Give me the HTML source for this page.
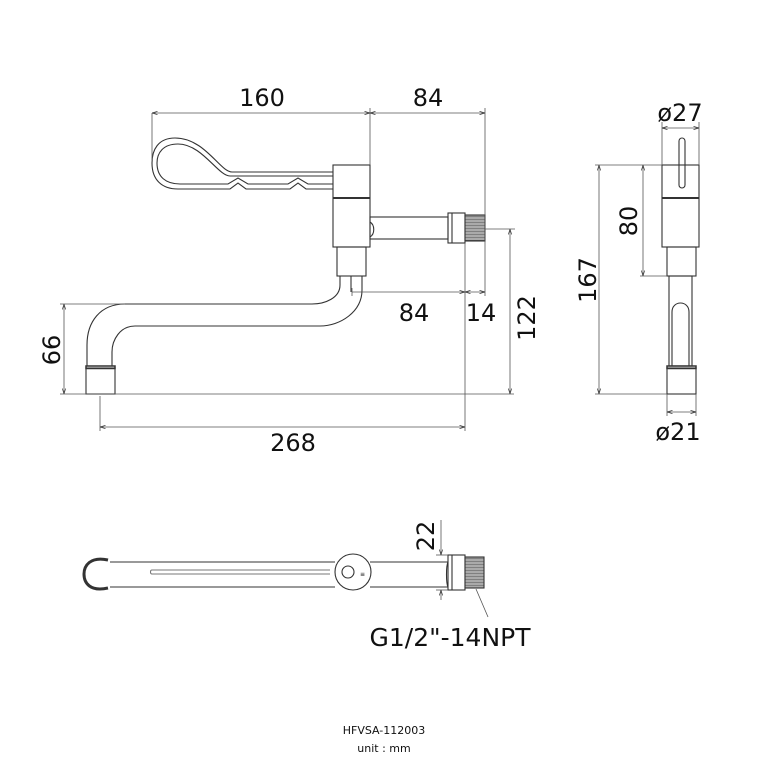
<!DOCTYPE html>
<html><head><meta charset="utf-8"><style>
html,body{margin:0;padding:0;background:#fff;width:768px;height:768px;overflow:hidden}
svg{display:block}
text{font-family:"DejaVu Sans","Liberation Sans",sans-serif;fill:#111}
</style></head><body>
<svg width="768" height="768" viewBox="0 0 768 768" xmlns="http://www.w3.org/2000/svg">
<defs>
<marker id="a" viewBox="0 0 10 10" refX="10" refY="5" markerWidth="7" markerHeight="7" orient="auto-start-reverse"><path d="M0,2 L10,5 L0,8" fill="none" stroke="#333" stroke-width="1.2"/></marker>
<pattern id="th" width="3" height="3" patternUnits="userSpaceOnUse"><rect width="3" height="3" fill="#aaa"/><line x1="0" y1="0" x2="3" y2="0" stroke="#555" stroke-width="1"/></pattern>
</defs>
<g fill="none" stroke="#333" stroke-width="1.1">
<path d="M333,172 L232,172 C220,172 205,138 175,138 C158,138 152,150 152,163 C152,180 162,189 178,189 L230,189 L238,183 L246,189 L290,189 L298,183 L306,189 L333,189"/>
<path d="M333,176 L230,176 C218,176 202,144 178,144 C163,144 157,153 157,163 C157,177 166,184 180,184 L228,184 L238,178 L248,184 L288,184 L298,178 L308,184 L333,184"/>
<rect x="333" y="165" width="37" height="82"/>
<line x1="333" y1="198" x2="370" y2="198" stroke-width="2"/>
<rect x="370" y="217" width="78" height="22"/>
<path d="M370,222 C375,225 375,234 370,237"/>
<rect x="448" y="213" width="17" height="30"/>
<line x1="452" y1="213" x2="452" y2="243"/>
<rect x="465" y="215" width="20" height="26" fill="url(#th)"/>
<rect x="337" y="247" width="29" height="29"/>
<path d="M340,276 L340,285 C340,298 325,304 312,304 L125,304 C100,304 87,322 87,345 L87,366"/>
<path d="M362,276 L362,290 C362,312 340,326 320,326 L135,326 C120,326 112,340 112,352 L112,366"/>
<line x1="351" y1="276" x2="351" y2="292"/>
<rect x="86" y="366" width="29" height="2.5" stroke-width="1.5"/>
<rect x="86" y="368" width="29" height="26"/>
<rect x="662" y="165" width="37" height="82"/>
<line x1="662" y1="198" x2="699" y2="198" stroke-width="2"/>
<rect x="679" y="138" width="6" height="50" rx="3"/>
<rect x="667" y="247" width="29" height="29"/>
<rect x="669" y="276" width="23" height="90"/>
<path d="M672,366 L672,312 C672,300 689,300 689,312 L689,366"/>
<rect x="667" y="366" width="29" height="2.5" stroke-width="1.5"/>
<rect x="667" y="368" width="29" height="26"/>
<path d="M110,562 L335,562 M370,562 L448,562 M110,587 L335,587 M370,587 L448,587"/>
<path d="M108,560 C90,556 84,566 84,574 C84,583 90,592 108,588" stroke-width="3"/>
<path d="M152,570 L330,570 M152,574 L330,574 M152,570 C150,570 150,574 152,574" stroke="#777"/>
<circle cx="353" cy="572" r="18"/>
<circle cx="348" cy="572" r="6"/>
<path d="M448,562 C446,566 446,583 448,587"/>
<rect x="448" y="555" width="17" height="35"/>
<line x1="452" y1="555" x2="452" y2="590"/>
<rect x="465" y="557" width="19" height="31" fill="url(#th)"/>
</g>
<text x="360" y="576" font-size="6">≡</text>
<g fill="none" stroke="#555" stroke-width="0.8">
<line x1="152" y1="113" x2="152" y2="160"/>
<line x1="370" y1="108" x2="370" y2="165"/>
<line x1="485" y1="108" x2="485" y2="296"/>
<line x1="152" y1="113" x2="370" y2="113" marker-start="url(#a)" marker-end="url(#a)"/>
<line x1="370" y1="113" x2="485" y2="113" marker-start="url(#a)" marker-end="url(#a)"/>
<line x1="352" y1="288" x2="352" y2="296"/>
<line x1="352" y1="292" x2="465" y2="292" marker-end="url(#a)"/>
<line x1="465" y1="292" x2="485" y2="292" marker-start="url(#a)" marker-end="url(#a)"/>
<line x1="465" y1="243" x2="465" y2="431"/>
<line x1="100" y1="396" x2="100" y2="431"/>
<line x1="100" y1="427" x2="465" y2="427" marker-start="url(#a)" marker-end="url(#a)"/>
<line x1="60" y1="304" x2="125" y2="304"/>
<line x1="60" y1="394" x2="514" y2="394"/>
<line x1="64" y1="304" x2="64" y2="394" marker-start="url(#a)" marker-end="url(#a)"/>
<line x1="485" y1="229" x2="515" y2="229"/>
<line x1="510" y1="229" x2="510" y2="394" marker-start="url(#a)" marker-end="url(#a)"/>
<line x1="662" y1="122" x2="662" y2="165"/>
<line x1="699" y1="122" x2="699" y2="165"/>
<line x1="662" y1="128" x2="699" y2="128" marker-start="url(#a)" marker-end="url(#a)"/>
<line x1="595" y1="165" x2="662" y2="165"/>
<line x1="640" y1="276" x2="667" y2="276"/>
<line x1="595" y1="394" x2="667" y2="394"/>
<line x1="643" y1="165" x2="643" y2="276" marker-start="url(#a)" marker-end="url(#a)"/>
<line x1="599" y1="165" x2="599" y2="394" marker-start="url(#a)" marker-end="url(#a)"/>
<line x1="667" y1="394" x2="667" y2="416"/>
<line x1="696" y1="394" x2="696" y2="416"/>
<line x1="667" y1="412" x2="696" y2="412" marker-start="url(#a)" marker-end="url(#a)"/>
<line x1="436" y1="555" x2="448" y2="555"/>
<line x1="436" y1="590" x2="448" y2="590"/>
<line x1="441" y1="520" x2="441" y2="555" marker-end="url(#a)"/>
<line x1="441" y1="600" x2="441" y2="590" marker-end="url(#a)"/>
<line x1="488" y1="617" x2="476" y2="589"/>
</g>
<g font-size="24" text-anchor="middle">
<text x="262" y="106">160</text>
<text x="428" y="106">84</text>
<text x="414" y="321">84</text>
<text x="481" y="321">14</text>
<text x="293" y="451">268</text>
<text transform="translate(535,318) rotate(-90)">122</text>
<text transform="translate(60,350) rotate(-90)">66</text>
<text x="680" y="121">ø27</text>
<text x="678" y="440">ø21</text>
<text transform="translate(637,221) rotate(-90)">80</text>
<text transform="translate(596,280) rotate(-90)">167</text>
<text transform="translate(434,536) rotate(-90)">22</text>
<text x="450" y="646" font-size="25">G1/2"-14NPT</text>
<text x="384" y="734" font-size="11">HFVSA-112003</text>
<text x="384" y="752" font-size="11">unit : mm</text>
</g>
</svg>
</body></html>
